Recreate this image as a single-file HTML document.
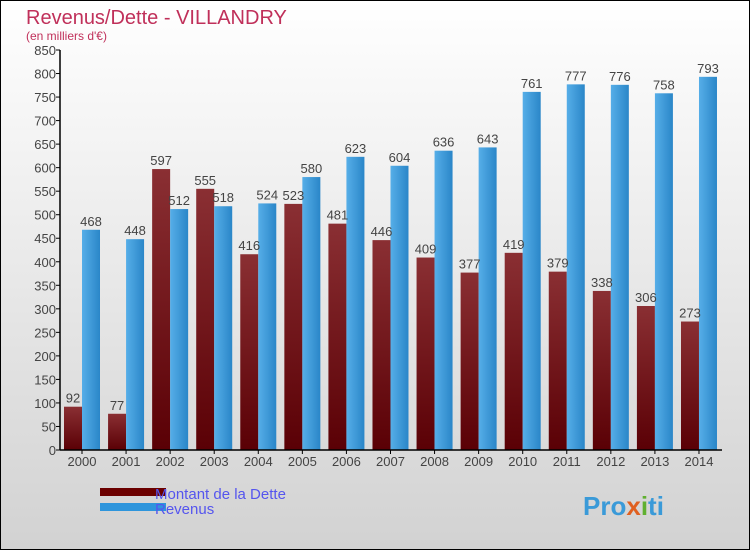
<!DOCTYPE html>
<html><head><meta charset="utf-8"><style>
body{margin:0;width:750px;height:550px;overflow:hidden;font-family:"Liberation Sans",sans-serif}
</style></head><body>
<svg width="750" height="550" xmlns="http://www.w3.org/2000/svg">
<defs>
<linearGradient id="bg" x1="0" y1="0" x2="0" y2="1"><stop offset="0" stop-color="#ffffff"/><stop offset="1" stop-color="#d2d2d2"/></linearGradient>
<linearGradient id="gd" x1="0" y1="0" x2="0" y2="1"><stop offset="0" stop-color="#8a2f33"/><stop offset="1" stop-color="#5a0005"/></linearGradient>
<linearGradient id="gr" x1="0" y1="0" x2="1" y2="0"><stop offset="0" stop-color="#56aee8"/><stop offset="1" stop-color="#2a86c8"/></linearGradient>
</defs>
<rect x="0.5" y="0.5" width="749" height="549" fill="url(#bg)" stroke="#000"/>
<text x="26" y="24" font-size="20" fill="#c0305a">Revenus/Dette - VILLANDRY</text>
<text x="26" y="40" font-size="12" fill="#c0305a">(en milliers d'€)</text>
<g id="plot"></g>
<rect x="100" y="488" width="66" height="8" fill="#6b0000"/>
<text x="155" y="499" font-size="15" fill="#5555ee">Montant de la Dette</text>
<rect x="100" y="503" width="66" height="8" fill="#2e95dc"/>
<text x="155" y="514" font-size="15" fill="#5555ee">Revenus</text>
<text x="583" y="515" font-size="26" font-weight="bold" fill="#3a9ad8">Pro<tspan fill="#e06020">x</tspan><tspan fill="#60b030">i</tspan>ti</text>
</svg>
<script>
const years=["2000","2001","2002","2003","2004","2005","2006","2007","2008","2009","2010","2011","2012","2013","2014"];
const dette=[92,77,597,555,416,523,481,446,409,377,419,379,338,306,273];
const revenus=[468,448,512,518,524,580,623,604,636,643,761,777,776,758,793];
const ticks=[0,50,100,150,200,250,300,350,400,450,500,550,600,650,700,750,800,850];
const NS="http://www.w3.org/2000/svg";
const g=document.getElementById('plot');
const y0=450,x0=60,step=44.07,bw=18;
const y=v=>y0-v*400/850;
const cx=i=>82+i*step;
function mk(t,a){const e=document.createElementNS(NS,t);for(const k in a)e.setAttribute(k,a[k]);g.appendChild(e);return e;}
ticks.forEach(t=>{
 const l=mk('line',{x1:x0-4,x2:x0,y1:y(t),y2:y(t),stroke:'#000'});
 
 
 const tx=mk('text',{x:x0-4,y:y(t)+5,'font-size':13,'text-anchor':'end',fill:'#444'});
 tx.textContent=t;
 
 
});
years.forEach((yr,i)=>{
 const c=cx(i);
 const d=mk('rect',{x:c-bw,y:y(dette[i]),width:bw,height:y0-y(dette[i]),fill:'url(#gd)'});
 
 
 const r=mk('rect',{x:c,y:y(revenus[i]),width:bw,height:y0-y(revenus[i]),fill:'url(#gr)'});
 
 
 const dl=mk('text',{x:c-bw/2,y:y(dette[i])-4,'font-size':13,'text-anchor':'middle',fill:'#444'});
 dl.textContent=dette[i];
 
 
 const rl=mk('text',{x:c+bw/2,y:y(revenus[i])-4,'font-size':13,'text-anchor':'middle',fill:'#444'});
 rl.textContent=revenus[i];
 
 
 const tk=mk('line',{x1:c,x2:c,y1:y0,y2:y0+4,stroke:'#000'});
 
 
 const xl=mk('text',{x:c,y:y0+16,'font-size':13,'text-anchor':'middle',fill:'#444'});
 xl.textContent=yr;
 
 
});
const ya=mk('line',{x1:x0,x2:x0,y1:y(850),y2:y0,stroke:'#000','stroke-width':1.5});


const xa=mk('line',{x1:x0,x2:722,y1:y0,y2:y0,stroke:'#000','stroke-width':1.5});


</script>
</body></html>
